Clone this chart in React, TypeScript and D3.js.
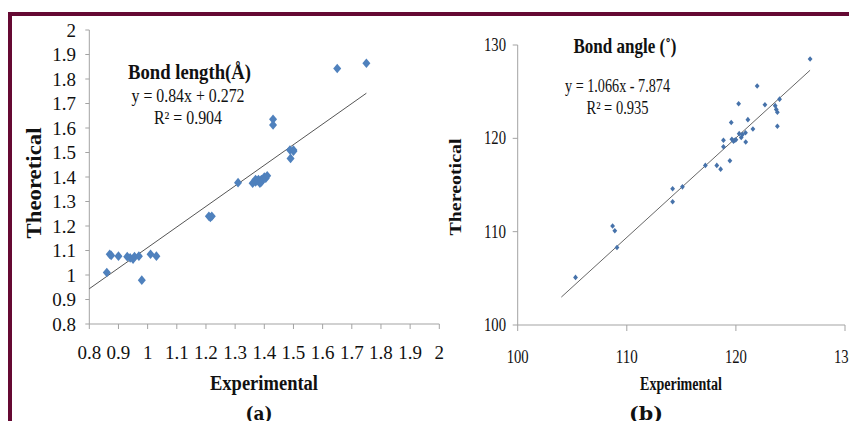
import React from 'react';
import * as d3 from 'd3';

// panel (a): bond lengths
const lenExp = [0.86, 0.87, 0.875, 0.90, 0.93, 0.94, 0.95, 0.955, 0.97, 0.98, 1.01, 1.03, 1.21, 1.215, 1.22, 1.31, 1.36, 1.37, 1.37, 1.375, 1.38, 1.385, 1.39, 1.39, 1.40, 1.405, 1.41, 1.43, 1.43, 1.488, 1.49, 1.50, 1.50, 1.65, 1.75];
const lenTheo = [1.01, 1.085, 1.08, 1.077, 1.075, 1.07, 1.065, 1.075, 1.077, 0.979, 1.085, 1.077, 1.24, 1.235, 1.24, 1.377, 1.375, 1.38, 1.39, 1.385, 1.39, 1.375, 1.39, 1.38, 1.40, 1.395, 1.405, 1.636, 1.612, 1.51, 1.476, 1.505, 1.51, 1.843, 1.864];
const lenTicks = [0.8, 0.9, 1, 1.1, 1.2, 1.3, 1.4, 1.5, 1.6, 1.7, 1.8, 1.9, 2];
const lenFit = { slope: 0.84, intercept: 0.272, from: 0.8, to: 1.75 };

// panel (b): bond angles
const angExp = [105.3, 108.7, 108.9, 109.1, 114.2, 114.2, 115.1, 117.2, 118.25, 118.6, 119.45, 118.86, 118.86, 119.57, 119.63, 119.78, 119.9, 120.0, 120.25, 120.3, 120.49, 120.6, 120.88, 120.9, 121.1, 121.56, 121.95, 122.66, 123.6, 123.7, 123.8, 123.8, 124.0, 126.8];
const angTheo = [105.1, 110.6, 110.1, 108.3, 114.6, 113.2, 114.8, 117.1, 117.1, 116.7, 117.6, 119.8, 119.1, 121.7, 119.9, 119.7, 119.8, 119.85, 123.7, 120.5, 120.1, 120.4, 120.6, 119.6, 122.0, 121.0, 125.6, 123.6, 123.5, 123.1, 122.8, 121.3, 124.2, 128.5];
const angTicks = [100, 110, 120, 130];
const angFit = { slope: 1.066, intercept: -7.874, from: 104.0, to: 126.8 };

const SERIF = 'Liberation Serif, Times New Roman, Times, serif';
const AXIS = '#a3a3a3';
const BORDER = '#650933';

const diamond = (w: number, h: number) => `M0,${-h}L${w},0L0,${h}L${-w},0Z`;

export default function App() {
  // scales for (a)
  const xa = d3.scaleLinear().domain([0.8, 2]).range([89.3, 439.3]);
  const ya = d3.scaleLinear().domain([0.8, 2]).range([324, 30]);
  // scales for (b)
  const xb = d3.scaleLinear().domain([100, 130]).range([517.7, 845]);
  const yb = d3.scaleLinear().domain([100, 130]).range([325, 45]);

  const line = d3.line<[number, number]>();
  const fitA = line([
    [xa(lenFit.from), ya(lenFit.slope * lenFit.from + lenFit.intercept)],
    [xa(lenFit.to), ya(lenFit.slope * lenFit.to + lenFit.intercept)],
  ]);
  const fitB = line([
    [xb(angFit.from), yb(angFit.slope * angFit.from + angFit.intercept)],
    [xb(angFit.to), yb(angFit.slope * angFit.to + angFit.intercept)],
  ]);

  return (
    <div style={{ position: 'fixed', left: 0, top: 0 }}>
      <svg width={849} height={421} style={{ display: 'block', background: '#fff' }}>
        {/* frame */}
        <rect x={8} y={12} width={841} height={4} fill={BORDER} />
        <rect x={8} y={12} width={4} height={409} fill={BORDER} />

        {/* ---------- (a) ---------- */}
        <g style={{ fontFamily: SERIF }} fill="#111">
          <line x1={xa(0.8)} x2={xa(0.8)} y1={ya(0.8)} y2={ya(2)} stroke={AXIS} />
          <line x1={xa(0.8)} x2={xa(2)} y1={ya(0.8)} y2={ya(0.8)} stroke={AXIS} />
          {lenTicks.map(t => (
            <g key={'ay' + t}>
              <line x1={xa(0.8) - 4} x2={xa(0.8)} y1={ya(t)} y2={ya(t)} stroke={AXIS} />
              <text x={76} y={ya(t) + 6.5} fontSize={19} textAnchor="end">{d3.format('~g')(t)}</text>
            </g>
          ))}
          {lenTicks.map(t => (
            <g key={'ax' + t}>
              <line x1={xa(t)} x2={xa(t)} y1={ya(0.8)} y2={ya(0.8) + 5} stroke={AXIS} />
              <text x={xa(t)} y={359} fontSize={19} textAnchor="middle">{d3.format('~g')(t)}</text>
            </g>
          ))}
          <path d={fitA ?? ''} stroke="#555" strokeWidth={1} fill="none" />
          {lenExp.map((v, i) => (
            <path key={'pa' + i} d={diamond(4, 4.8)} transform={`translate(${xa(v)},${ya(lenTheo[i])})`} fill="#4F81BD" />
          ))}
          <text x={189.5} y={79} fontSize={21} fontWeight="bold" textAnchor="middle" textLength={123} lengthAdjust="spacingAndGlyphs">Bond length(Å)</text>
          <text x={188} y={102} fontSize={18} textAnchor="middle" textLength={113} lengthAdjust="spacingAndGlyphs">y = 0.84x + 0.272</text>
          <text x={188} y={124} fontSize={18} textAnchor="middle" textLength={68} lengthAdjust="spacingAndGlyphs">R² = 0.904</text>
          <text transform="translate(41,183) rotate(-90)" fontSize={22} fontWeight="bold" textAnchor="middle" textLength={111} lengthAdjust="spacingAndGlyphs">Theoretical</text>
          <text x={264} y={390} fontSize={20} fontWeight="bold" textAnchor="middle" textLength={108} lengthAdjust="spacingAndGlyphs">Experimental</text>
          <text x={259} y={420} fontSize={18} fontWeight="bold" style={{ fontFamily: 'DejaVu Serif, serif' }} textAnchor="middle" textLength={27} lengthAdjust="spacingAndGlyphs">(a)</text>
        </g>

        {/* ---------- (b) ---------- */}
        <g style={{ fontFamily: SERIF }} fill="#111">
          <line x1={xb(100)} x2={xb(100)} y1={yb(100)} y2={yb(130)} stroke={AXIS} />
          <line x1={xb(100)} x2={xb(130)} y1={yb(100)} y2={yb(100)} stroke={AXIS} />
          {angTicks.map(t => (
            <g key={'by' + t}>
              <line x1={xb(100) - 5} x2={xb(100)} y1={yb(t)} y2={yb(t)} stroke={AXIS} />
              <text x={506} y={yb(t) + 6} fontSize={18} textAnchor="end" textLength={22} lengthAdjust="spacingAndGlyphs">{t}</text>
            </g>
          ))}
          {angTicks.map(t => (
            <g key={'bx' + t}>
              <line x1={xb(t)} x2={xb(t)} y1={yb(100)} y2={yb(100) + 6} stroke={AXIS} />
              <text x={xb(t)} y={363} fontSize={18} textAnchor="middle" textLength={22} lengthAdjust="spacingAndGlyphs">{t}</text>
            </g>
          ))}
          <path d={fitB ?? ''} stroke="#666" strokeWidth={1} fill="none" />
          {angExp.map((v, i) => (
            <path key={'pb' + i} d={diamond(2.4, 2.8)} transform={`translate(${xb(v)},${yb(angTheo[i])})`} fill="#4672AA" />
          ))}
          <text x={625} y={53} fontSize={22} fontWeight="bold" textAnchor="middle" textLength={103} lengthAdjust="spacingAndGlyphs">Bond angle (˚)</text>
          <text x={617.5} y={92} fontSize={18} textAnchor="middle" textLength={105} lengthAdjust="spacingAndGlyphs">y = 1.066x - 7.874</text>
          <text x={617.5} y={114} fontSize={18} textAnchor="middle" textLength={62} lengthAdjust="spacingAndGlyphs">R² = 0.935</text>
          <text transform="translate(460.5,187) rotate(-90)" fontSize={17} fontWeight="bold" textAnchor="middle" textLength={97} lengthAdjust="spacingAndGlyphs">Thereotical</text>
          <text x={681} y={390} fontSize={18} fontWeight="bold" textAnchor="middle" textLength={82} lengthAdjust="spacingAndGlyphs">Experimental</text>
          <text x={646} y={420} fontSize={18} fontWeight="bold" style={{ fontFamily: 'DejaVu Serif, serif' }} textAnchor="middle" textLength={34} lengthAdjust="spacingAndGlyphs">(b)</text>
        </g>
      </svg>
    </div>
  );
}
